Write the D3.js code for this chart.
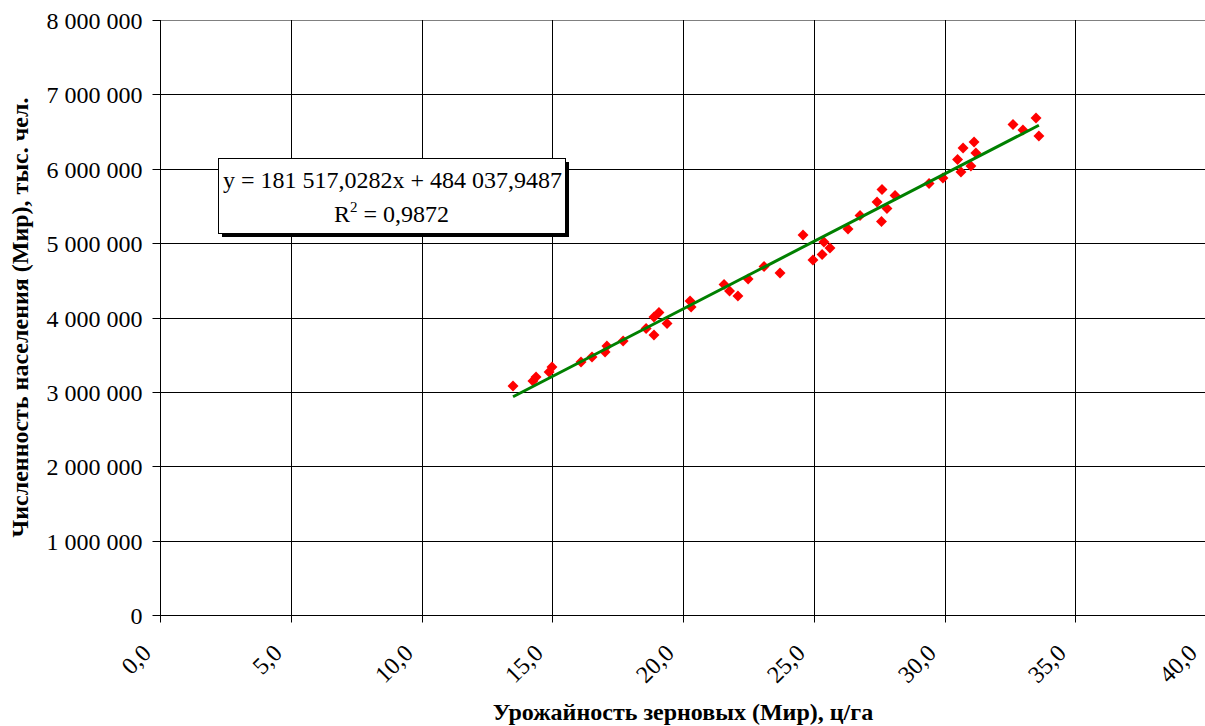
<!DOCTYPE html>
<html>
<head>
<meta charset="utf-8">
<script src="https://cdn.jsdelivr.net/npm/d3@7"></script>
<style>
  html, body { margin: 0; padding: 0; background: #fff; }
  svg { display: block; font-family: "Liberation Serif", "Times New Roman", serif; }
</style>
</head>
<body>
<svg id="chart" width="1205" height="726"></svg>
<script>
// ---- Data ----
const yieldX = [13.50, 14.26, 14.38, 14.88, 14.99, 16.10, 16.52, 17.02, 17.09, 17.71,
  18.59, 18.89, 18.89, 19.08, 19.39, 20.27, 20.31, 21.57, 21.78, 22.10,
  22.49, 23.10, 23.71, 24.59, 24.97, 25.32, 25.39, 25.62, 26.31, 26.77,
  27.59, 27.42, 27.61, 27.80, 28.11, 29.41, 29.94, 30.50, 30.63, 30.71,
  31.01, 31.13, 31.20, 32.62, 33.00, 33.50, 33.61];
const populationY = [3079000, 3146000, 3200000, 3267000, 3334000, 3402000, 3469000, 3536000, 3617000, 3684000,
  3852000, 3765000, 4007000, 4067000, 3919000, 4222000, 4141000, 4444000, 4356000, 4289000,
  4518000, 4686000, 4598000, 5109000, 4773000, 4847000, 5015000, 4934000, 5190000, 5371000,
  5291000, 5553000, 5721000, 5466000, 5640000, 5802000, 5876000, 6124000, 5956000, 6279000,
  6037000, 6360000, 6212000, 6595000, 6521000, 6682000, 6440000];
const trendSlope = 181517.0282;
const trendIntercept = 484037.9487;
const trendR2 = "0,9872";
const equationText = "y = 181 517,0282x + 484 037,9487";
const xTicks = [0, 5, 10, 15, 20, 25, 30, 35, 40];
const yTicks = [0, 1000000, 2000000, 3000000, 4000000, 5000000, 6000000, 7000000, 8000000];
const xTitle = "Урожайность зерновых (Мир), ц/га";
const yTitle = "Численность населения (Мир), тыс. чел.";

// ---- Layout ----
const pL = 160, pR = 1206, pT = 20, pB = 615;
const svg = d3.select("#chart");
const x = d3.scaleLinear().domain([0, 40]).range([pL, pR]);
const y = d3.scaleLinear().domain([0, 8000000]).range([pB, pT]);

const fmtY = v => d3.format(",")(v).replace(/,/g, "\u00A0");
const fmtX = v => d3.format(".1f")(v).replace(".", ",");

// gridlines
svg.append("g").selectAll("line").data(yTicks.filter(d => d > 0)).join("line")
  .attr("x1", pL).attr("x2", pR)
  .attr("y1", d => Math.round(y(d)) + 0.5).attr("y2", d => Math.round(y(d)) + 0.5)
  .attr("stroke", d => d === 8000000 ? "#808080" : "#000").attr("stroke-width", 1);
svg.append("g").selectAll("line").data(xTicks.filter(d => d > 0)).join("line")
  .attr("y1", pT).attr("y2", pB)
  .attr("x1", d => Math.round(x(d)) + 0.5).attr("x2", d => Math.round(x(d)) + 0.5)
  .attr("stroke", "#000").attr("stroke-width", 1);

// Y axis
const yAxis = d3.axisLeft(y).tickValues(yTicks).tickFormat(fmtY).tickSize(8).tickPadding(10);
const gy = svg.append("g").attr("transform", `translate(${pL + 0.5},0)`).call(yAxis);
gy.select(".domain").attr("stroke", "#000").attr("d", `M0,${pT}V${pB}`);
gy.selectAll(".tick line").attr("stroke", "#000");
gy.selectAll(".tick").attr("transform", d => `translate(0,${Math.round(y(d)) + 0.5})`);
gy.selectAll("text").attr("font-family", "Liberation Serif").attr("font-size", 24)
  .attr("fill", "#000").attr("dy", "0.34em");

// X axis
const xAxis = d3.axisBottom(x).tickValues(xTicks).tickFormat(fmtX).tickSize(7).tickPadding(8);
const gx = svg.append("g").attr("transform", `translate(0,${pB + 0.5})`).call(xAxis);
gx.select(".domain").attr("stroke", "#000").attr("d", `M${pL},0H${pR}`);
gx.selectAll(".tick").attr("transform", d => `translate(${Math.round(x(d)) + 0.5},0)`);
gx.selectAll(".tick line").attr("stroke", "#000");
gx.selectAll("text").attr("font-family", "Liberation Serif").attr("font-size", 24)
  .attr("fill", "#000").attr("text-anchor", "end")
  .attr("dy", null).attr("y", null)
  .attr("transform", "translate(-8,39) rotate(-45)");

// points + trend line
const xMin = d3.min(yieldX), xMax = d3.max(yieldX);
const trend = [xMin, xMax].map(v => [v, trendSlope * v + trendIntercept]);

const diamond = d3.symbol().type(d3.symbolSquare).size(60);
svg.append("g").selectAll("path").data(yieldX.map((v, i) => [v, populationY[i]])).join("path")
  .attr("d", diamond)
  .attr("transform", d => `translate(${x(d[0])},${y(d[1])}) rotate(45)`)
  .attr("fill", "#ff0000");

svg.append("path")
  .attr("d", d3.line().x(d => x(d[0])).y(d => y(d[1]))(trend))
  .attr("stroke", "#008000").attr("stroke-width", 3).attr("fill", "none");

// equation box
const bx = 218, by = 158, bw = 347, bh = 75;
svg.append("rect").attr("x", bx + 4).attr("y", by + 4).attr("width", bw).attr("height", bh).attr("fill", "#000");
svg.append("rect").attr("x", bx + 0.5).attr("y", by + 0.5).attr("width", bw).attr("height", bh)
  .attr("fill", "#fff").attr("stroke", "#000").attr("stroke-width", 1);
svg.append("text").attr("x", bx + bw / 2 + 1).attr("y", 188).attr("text-anchor", "middle")
  .attr("font-size", 24).attr("fill", "#000").text(equationText);
const r2 = svg.append("text").attr("x", bx + bw / 2).attr("y", 222).attr("text-anchor", "middle")
  .attr("font-size", 24).attr("fill", "#000");
r2.append("tspan").text("R");
r2.append("tspan").attr("dy", -10).attr("font-size", 15).text("2");
r2.append("tspan").attr("dy", 10).text(" = " + trendR2);

// axis titles
svg.append("text").attr("x", (pL + pR) / 2).attr("y", 720).attr("text-anchor", "middle")
  .attr("font-weight", "bold").attr("font-size", 24).attr("fill", "#000").text(xTitle);
svg.append("text").attr("transform", `translate(28,${(pT + pB) / 2}) rotate(-90)`)
  .attr("text-anchor", "middle").attr("font-weight", "bold").attr("font-size", 24)
  .attr("fill", "#000").text(yTitle);
</script>
</body>
</html>
